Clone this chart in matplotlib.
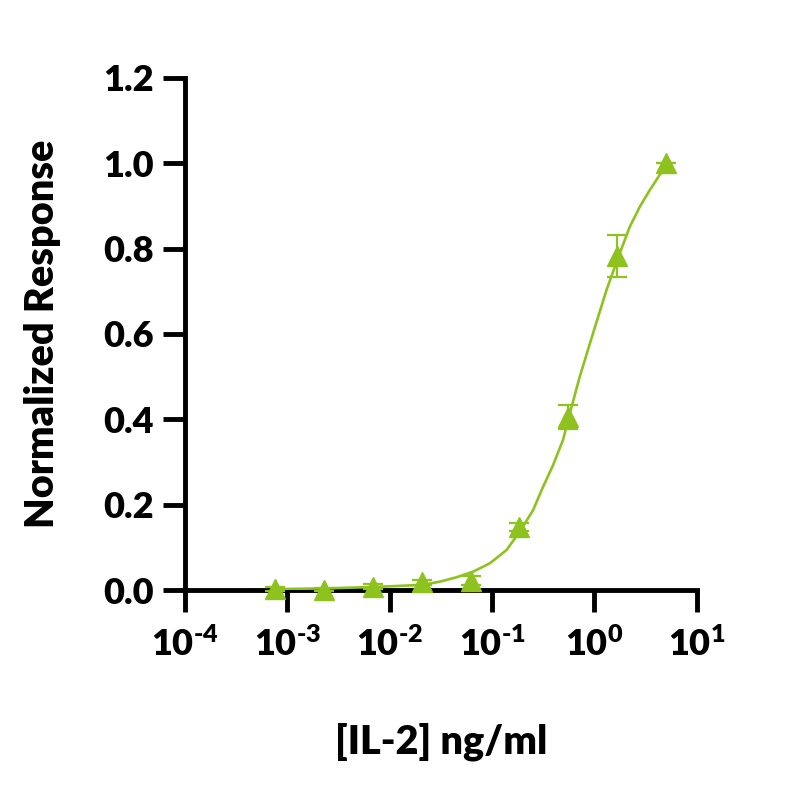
import matplotlib
matplotlib.use("Agg")
import matplotlib.pyplot as plt
import numpy as np

# measured points (3-fold dilution series)
conc = [0.000762, 0.00229, 0.00686, 0.0206, 0.0617, 0.185, 0.556, 1.667, 5.0]
resp = [0.002, 0.001, 0.008, 0.018, 0.022, 0.148, 0.405, 0.782, 1.000]
err = [0.004, 0.003, 0.006, 0.006, 0.010, 0.010, 0.028, 0.049, 0.0]

# fitted curve (log10 conc, response)
curve_logx = [-3.10, -2.60, -2.16, -1.68, -1.51, -1.347, -1.185, -1.021,
              -0.858, -0.729, -0.599, -0.501, -0.403, -0.306, -0.240, -0.143,
              -0.013, 0.118, 0.247, 0.345, 0.443, 0.540, 0.638, 0.720]
curve_y = [0.002, 0.004, 0.007, 0.012, 0.0195, 0.0298, 0.0429, 0.0626,
           0.0937, 0.137, 0.187, 0.242, 0.293, 0.352, 0.414, 0.500,
           0.602, 0.703, 0.789, 0.851, 0.898, 0.937, 0.973, 0.996]

xticks = [1e-4, 1e-3, 1e-2, 1e-1, 1e0, 1e1]
xticklabels = ["$10^{\u20104}$", "$10^{\u20103}$", "$10^{\u20102}$",
               "$10^{\u20101}$", "$10^{0}$", "$10^{1}$"]
yticks = [0.0, 0.2, 0.4, 0.6, 0.8, 1.0, 1.2]

green = "#8dc21f"

plt.rcParams["font.family"] = ["Lato", "DejaVu Sans"]
plt.rcParams["font.weight"] = "heavy"
plt.rcParams["mathtext.fontset"] = "custom"
plt.rcParams["mathtext.rm"] = "Lato:heavy"
plt.rcParams["mathtext.bf"] = "Lato:heavy"
plt.rcParams["mathtext.it"] = "Lato:heavy"
plt.rcParams["mathtext.default"] = "rm"

fig = plt.figure(figsize=(8, 8), dpi=100)
ax = fig.add_axes([0.231, 0.2625, 0.640, 0.640])

ax.plot(10 ** np.array(curve_logx), curve_y, color=green, lw=1.9, zorder=3,
        solid_joinstyle="round")
ax.errorbar(conc, resp, yerr=err, fmt="^", color=green, ms=14, mec=green,
            ecolor=green, elinewidth=1.6, capsize=7, capthick=1.6,
            zorder=4, clip_on=False)

ax.set_xscale("log")
ax.set_xlim(1e-4, 1e1)
ax.set_ylim(0, 1.2)
ax.set_xticks(xticks)
ax.set_xticklabels(xticklabels)
ax.xaxis.set_minor_locator(matplotlib.ticker.NullLocator())
ax.set_yticks(yticks)
ax.set_yticklabels([f"{v:.1f}" for v in yticks])

for s in ["top", "right"]:
    ax.spines[s].set_visible(False)
for s in ["left", "bottom"]:
    ax.spines[s].set_linewidth(3.5)

ax.tick_params(axis="both", which="major", length=16, width=3.5,
               labelsize=26, direction="out")
ax.tick_params(axis="y", pad=6)
ax.tick_params(axis="x", pad=10)

ax.set_xlabel("[IL-2] ng/ml", fontsize=28.5, fontweight="heavy", labelpad=44)
ax.set_ylabel("Normalized Response", fontsize=28.5, fontweight="heavy", labelpad=31)

fig.savefig("out.png", dpi=100)
